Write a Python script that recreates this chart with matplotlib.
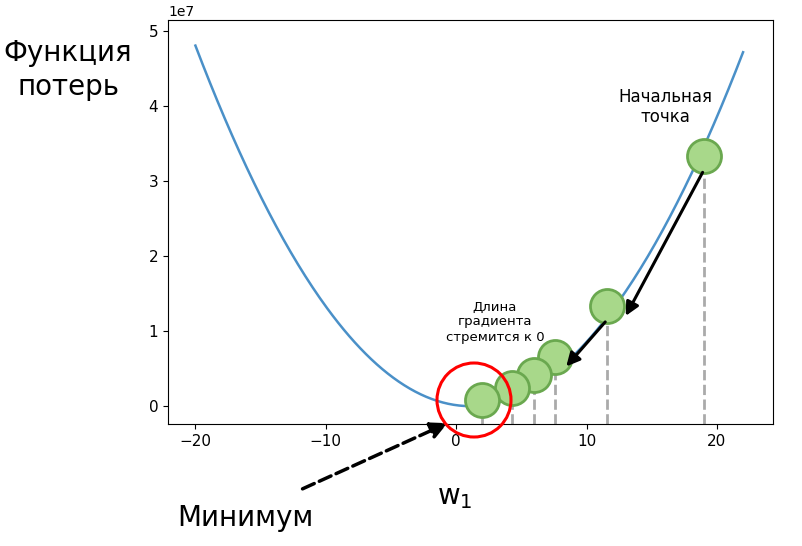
import numpy as np
import matplotlib
matplotlib.use("Agg")
import matplotlib.pyplot as plt
from matplotlib.patches import Ellipse, FancyArrowPatch

# curve samples (y in units of 1e7)
curve_x = [-20, -18, -16, -14, -12, -10, -8, -6, -4, -2, 0, 2, 4, 6, 8, 10, 12, 14, 16, 18, 20, 22]
curve_y = [4.81, 3.94, 3.16, 2.46, 1.85, 1.33, 0.89, 0.54, 0.28, 0.10, 0.013, 0.009, 0.091,
           0.26, 0.51, 0.86, 1.28, 1.80, 2.40, 3.08, 3.86, 4.72]
# gradient descent steps
step_x = [19.0, 11.57, 7.59, 5.98, 4.29, 1.99]
step_y = [3.33, 1.33, 0.65, 0.41, 0.24, 0.08]

fig = plt.figure(figsize=(8.02, 5.46), dpi=100)
ax = fig.add_axes([0.2095, 0.2234, 0.7544, 0.74])

coef = np.polyfit(curve_x, curve_y, 2)
xs = np.linspace(-20, 22, 300)
ax.plot(xs, np.polyval(coef, xs) * 1e7, color="#4a90c8", lw=1.8, zorder=2)

ymin = -0.24e7
for x, y in zip(step_x, step_y):
    ax.plot([x, x], [ymin, y * 1e7], ls="--", color="#aaaaaa", lw=2, zorder=1)
ax.scatter(step_x, np.array(step_y) * 1e7, s=600, facecolor="#a8d88a", edgecolor="#6aa84f",
           lw=2, zorder=4)

ax.set_xlim(-22.1, 24.3)
ax.set_ylim(ymin, 5.15e7)
ax.set_xticks([-20, -10, 0, 10, 20])
ax.tick_params(labelsize=11)

ax.annotate("", xy=(12.9, 1.17e7), xytext=(19.0, 3.15e7),
            arrowprops=dict(arrowstyle="-|>,head_length=0.8,head_width=0.4", color="black", lw=2.2), zorder=5)
ax.annotate("", xy=(8.3, 0.50e7), xytext=(11.57, 1.15e7),
            arrowprops=dict(arrowstyle="-|>,head_length=0.8,head_width=0.4", color="black", lw=2.2), zorder=5)

fig.patches.append(Ellipse((474 / 802, 1 - 400 / 546), 74 / 802, 74 / 546, transform=fig.transFigure,
                           fill=False, edgecolor="red", lw=2.2, zorder=10))

arr = FancyArrowPatch((300 / 802, 1 - 490 / 546), (450 / 802, 1 - 422 / 546), transform=fig.transFigure,
                      arrowstyle="-|>,head_length=10,head_width=5", ls="--", lw=2.5, color="black",
                      mutation_scale=1)
fig.patches.append(arr)

fig.text(68 / 802, 1 - 70 / 546, "Функция\nпотерь", fontsize=20, ha="center", va="center", linespacing=1.3)
fig.text(245 / 802, 1 - 518 / 546, "Минимум", fontsize=20, ha="center", va="center")
fig.text(455 / 802, 1 - 497 / 546, "w$_1$", fontsize=20, ha="center", va="center")
fig.text(665 / 802, 1 - 107 / 546, "Начальная\nточка", fontsize=12, ha="center", va="center")
fig.text(495 / 802, 1 - 322 / 546, "Длина\nградиента\nстремится к 0", fontsize=9.5, ha="center", va="center")

fig.savefig("out.png", dpi=100)
